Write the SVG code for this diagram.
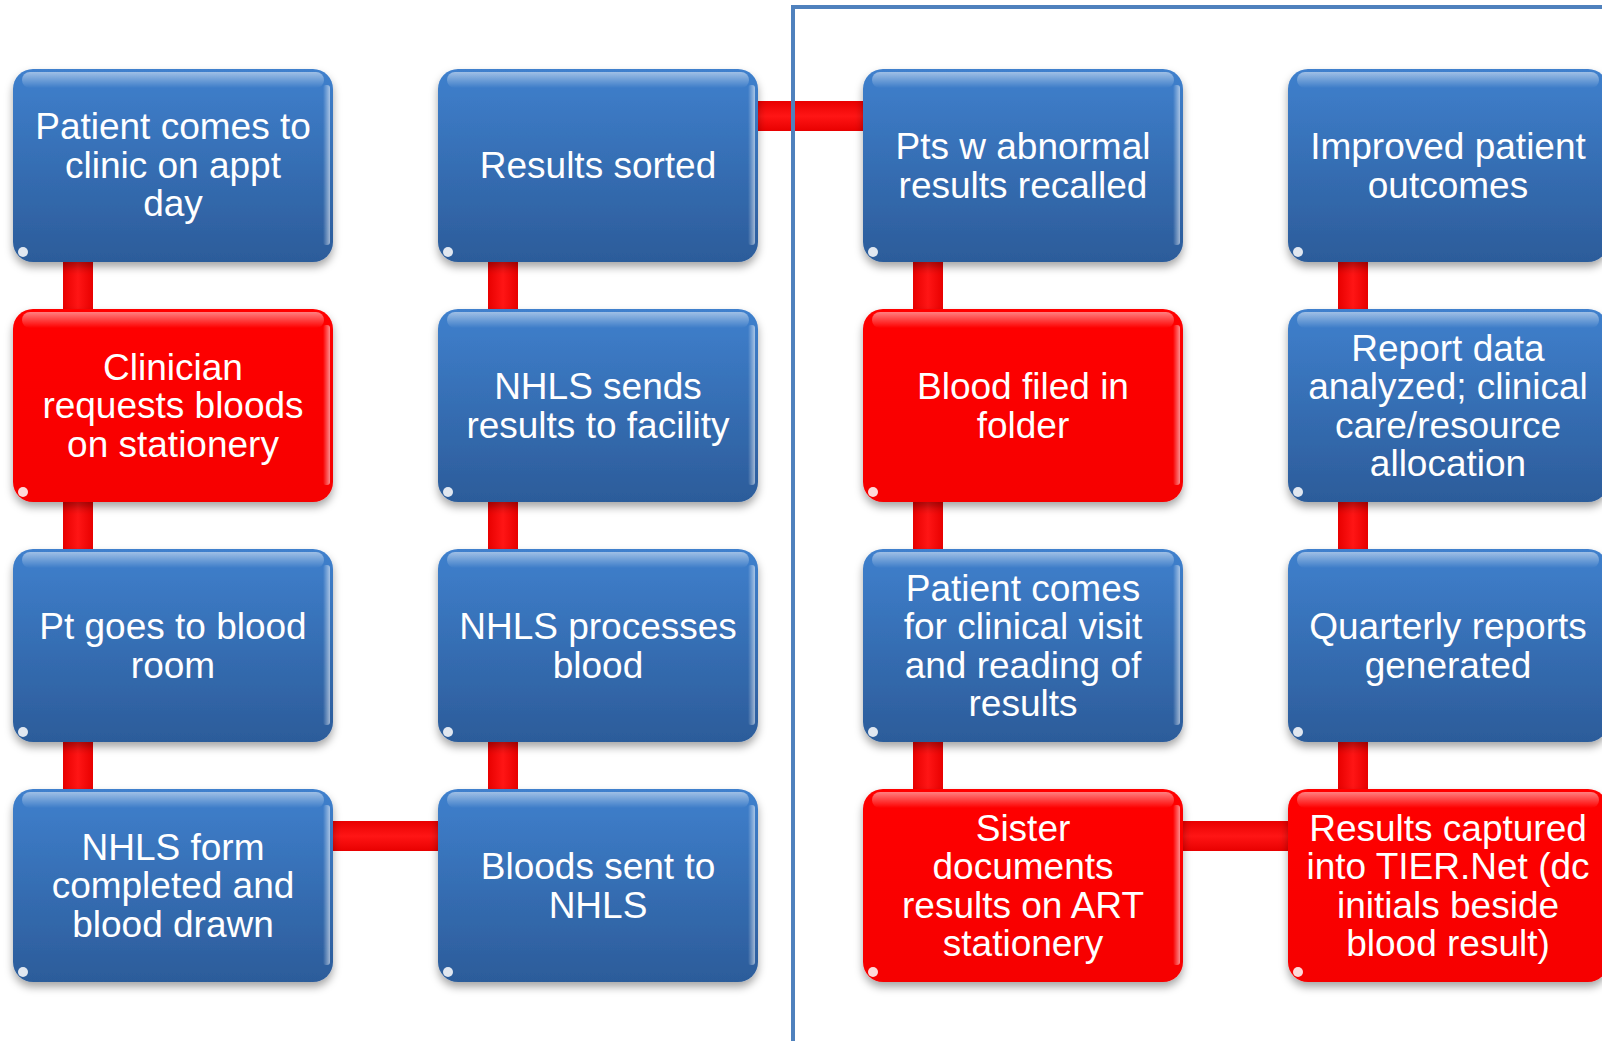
<svg xmlns="http://www.w3.org/2000/svg" width="1602" height="1041" viewBox="0 0 1602 1041">
<defs>
<linearGradient id="gBlue" x1="0" y1="0" x2="0" y2="1">
<stop offset="0" stop-color="#3f80cd"/>
<stop offset="1" stop-color="#2c5c9a"/>
</linearGradient>
<linearGradient id="gRed" x1="0" y1="0" x2="0" y2="1">
<stop offset="0" stop-color="#ff0000"/>
<stop offset="1" stop-color="#f60000"/>
</linearGradient>
<linearGradient id="gGloss" x1="0" y1="0" x2="0" y2="1">
<stop offset="0" stop-color="#ffffff" stop-opacity="0.5"/>
<stop offset="1" stop-color="#ffffff" stop-opacity="0"/>
</linearGradient>
<linearGradient id="gEdge" x1="0" y1="0" x2="1" y2="0">
<stop offset="0" stop-color="#ffffff" stop-opacity="0"/>
<stop offset="1" stop-color="#ffffff" stop-opacity="0.55"/>
</linearGradient>
<linearGradient id="gBarV" x1="0" y1="0" x2="1" y2="0">
<stop offset="0" stop-color="#e80000"/>
<stop offset="0.5" stop-color="#ff1515"/>
<stop offset="1" stop-color="#e80000"/>
</linearGradient>
<linearGradient id="gBarH" x1="0" y1="0" x2="0" y2="1">
<stop offset="0" stop-color="#e80000"/>
<stop offset="0.5" stop-color="#ff1515"/>
<stop offset="1" stop-color="#e80000"/>
</linearGradient>
<filter id="shadow" x="-10%" y="-10%" width="120%" height="130%">
<feDropShadow dx="0" dy="5" stdDeviation="4" flood-color="#000" flood-opacity="0.35"/>
</filter>
</defs>
<style>
.blue{fill:url(#gBlue);}
.red{fill:url(#gRed);}
.gloss{fill:url(#gGloss);}
.edge{fill:url(#gEdge);}
.spot{fill:#ffffff;opacity:0.85;}
.lbl{font-family:"Liberation Sans",Arial,sans-serif;font-size:37px;fill:#ffffff;text-anchor:middle;}
.frame{fill:none;stroke:#4f81bd;stroke-width:4;}
</style>
<rect width="1602" height="1041" fill="#ffffff"/>
<g id="connectors">
<rect x="63" y="255" width="30" height="60" fill="url(#gBarV)"/>
<rect x="63" y="495" width="30" height="60" fill="url(#gBarV)"/>
<rect x="63" y="735" width="30" height="60" fill="url(#gBarV)"/>
<rect x="488" y="255" width="30" height="60" fill="url(#gBarV)"/>
<rect x="488" y="495" width="30" height="60" fill="url(#gBarV)"/>
<rect x="488" y="735" width="30" height="60" fill="url(#gBarV)"/>
<rect x="913" y="255" width="30" height="60" fill="url(#gBarV)"/>
<rect x="913" y="495" width="30" height="60" fill="url(#gBarV)"/>
<rect x="913" y="735" width="30" height="60" fill="url(#gBarV)"/>
<rect x="1338" y="255" width="30" height="60" fill="url(#gBarV)"/>
<rect x="1338" y="495" width="30" height="60" fill="url(#gBarV)"/>
<rect x="1338" y="735" width="30" height="60" fill="url(#gBarV)"/>
<rect x="328" y="821" width="115" height="30" fill="url(#gBarH)"/>
<rect x="753" y="101" width="115" height="30" fill="url(#gBarH)"/>
<rect x="1178" y="821" width="115" height="30" fill="url(#gBarH)"/>
</g>
<path class="frame" d="M793,1041 V7 H1602"/>
<g id="n1"><rect class="blue" x="13" y="69" width="320" height="193" rx="20" filter="url(#shadow)"/><rect class="gloss" x="22" y="72" width="302" height="16" rx="8"/><rect class="edge" x="323" y="85" width="7" height="160" rx="3"/><circle class="spot" cx="23" cy="252" r="5"/>
<text class="lbl"><tspan x="173" y="139">Patient comes to</tspan><tspan x="173" y="177.5">clinic on appt</tspan><tspan x="173" y="216">day</tspan></text></g>
<g id="n2"><rect class="red" x="13" y="309" width="320" height="193" rx="20" filter="url(#shadow)"/><rect class="gloss" x="22" y="312" width="302" height="16" rx="8"/><rect class="edge" x="323" y="325" width="7" height="160" rx="3"/><circle class="spot" cx="23" cy="492" r="5"/>
<text class="lbl"><tspan x="173" y="379.5">Clinician</tspan><tspan x="173" y="418">requests bloods</tspan><tspan x="173" y="456.5">on stationery</tspan></text></g>
<g id="n3"><rect class="blue" x="13" y="549" width="320" height="193" rx="20" filter="url(#shadow)"/><rect class="gloss" x="22" y="552" width="302" height="16" rx="8"/><rect class="edge" x="323" y="565" width="7" height="160" rx="3"/><circle class="spot" cx="23" cy="732" r="5"/>
<text class="lbl"><tspan x="173" y="639">Pt goes to blood</tspan><tspan x="173" y="677.5">room</tspan></text></g>
<g id="n4"><rect class="blue" x="13" y="789" width="320" height="193" rx="20" filter="url(#shadow)"/><rect class="gloss" x="22" y="792" width="302" height="16" rx="8"/><rect class="edge" x="323" y="805" width="7" height="160" rx="3"/><circle class="spot" cx="23" cy="972" r="5"/>
<text class="lbl"><tspan x="173" y="859.5">NHLS form</tspan><tspan x="173" y="898">completed and</tspan><tspan x="173" y="936.5">blood drawn</tspan></text></g>
<g id="n5"><rect class="blue" x="438" y="69" width="320" height="193" rx="20" filter="url(#shadow)"/><rect class="gloss" x="447" y="72" width="302" height="16" rx="8"/><rect class="edge" x="748" y="85" width="7" height="160" rx="3"/><circle class="spot" cx="448" cy="252" r="5"/>
<text class="lbl"><tspan x="598" y="178">Results sorted</tspan></text></g>
<g id="n6"><rect class="blue" x="438" y="309" width="320" height="193" rx="20" filter="url(#shadow)"/><rect class="gloss" x="447" y="312" width="302" height="16" rx="8"/><rect class="edge" x="748" y="325" width="7" height="160" rx="3"/><circle class="spot" cx="448" cy="492" r="5"/>
<text class="lbl"><tspan x="598" y="399">NHLS sends</tspan><tspan x="598" y="437.5">results to facility</tspan></text></g>
<g id="n7"><rect class="blue" x="438" y="549" width="320" height="193" rx="20" filter="url(#shadow)"/><rect class="gloss" x="447" y="552" width="302" height="16" rx="8"/><rect class="edge" x="748" y="565" width="7" height="160" rx="3"/><circle class="spot" cx="448" cy="732" r="5"/>
<text class="lbl"><tspan x="598" y="639">NHLS processes</tspan><tspan x="598" y="677.5">blood</tspan></text></g>
<g id="n8"><rect class="blue" x="438" y="789" width="320" height="193" rx="20" filter="url(#shadow)"/><rect class="gloss" x="447" y="792" width="302" height="16" rx="8"/><rect class="edge" x="748" y="805" width="7" height="160" rx="3"/><circle class="spot" cx="448" cy="972" r="5"/>
<text class="lbl"><tspan x="598" y="879">Bloods sent to</tspan><tspan x="598" y="917.5">NHLS</tspan></text></g>
<g id="n9"><rect class="blue" x="863" y="69" width="320" height="193" rx="20" filter="url(#shadow)"/><rect class="gloss" x="872" y="72" width="302" height="16" rx="8"/><rect class="edge" x="1173" y="85" width="7" height="160" rx="3"/><circle class="spot" cx="873" cy="252" r="5"/>
<text class="lbl"><tspan x="1023" y="159">Pts w abnormal</tspan><tspan x="1023" y="197.5">results recalled</tspan></text></g>
<g id="n10"><rect class="red" x="863" y="309" width="320" height="193" rx="20" filter="url(#shadow)"/><rect class="gloss" x="872" y="312" width="302" height="16" rx="8"/><rect class="edge" x="1173" y="325" width="7" height="160" rx="3"/><circle class="spot" cx="873" cy="492" r="5"/>
<text class="lbl"><tspan x="1023" y="399">Blood filed in</tspan><tspan x="1023" y="437.5">folder</tspan></text></g>
<g id="n11"><rect class="blue" x="863" y="549" width="320" height="193" rx="20" filter="url(#shadow)"/><rect class="gloss" x="872" y="552" width="302" height="16" rx="8"/><rect class="edge" x="1173" y="565" width="7" height="160" rx="3"/><circle class="spot" cx="873" cy="732" r="5"/>
<text class="lbl"><tspan x="1023" y="600.5">Patient comes</tspan><tspan x="1023" y="639">for clinical visit</tspan><tspan x="1023" y="677.5">and reading of</tspan><tspan x="1023" y="716">results</tspan></text></g>
<g id="n12"><rect class="red" x="863" y="789" width="320" height="193" rx="20" filter="url(#shadow)"/><rect class="gloss" x="872" y="792" width="302" height="16" rx="8"/><rect class="edge" x="1173" y="805" width="7" height="160" rx="3"/><circle class="spot" cx="873" cy="972" r="5"/>
<text class="lbl"><tspan x="1023" y="840.5">Sister</tspan><tspan x="1023" y="879">documents</tspan><tspan x="1023" y="917.5">results on ART</tspan><tspan x="1023" y="956">stationery</tspan></text></g>
<g id="n13"><rect class="blue" x="1288" y="69" width="320" height="193" rx="20" filter="url(#shadow)"/><rect class="gloss" x="1297" y="72" width="302" height="16" rx="8"/><circle class="spot" cx="1298" cy="252" r="5"/>
<text class="lbl"><tspan x="1448" y="159">Improved patient</tspan><tspan x="1448" y="197.5">outcomes</tspan></text></g>
<g id="n14"><rect class="blue" x="1288" y="309" width="320" height="193" rx="20" filter="url(#shadow)"/><rect class="gloss" x="1297" y="312" width="302" height="16" rx="8"/><circle class="spot" cx="1298" cy="492" r="5"/>
<text class="lbl"><tspan x="1448" y="360.5">Report data</tspan><tspan x="1448" y="399">analyzed; clinical</tspan><tspan x="1448" y="437.5">care/resource</tspan><tspan x="1448" y="476">allocation</tspan></text></g>
<g id="n15"><rect class="blue" x="1288" y="549" width="320" height="193" rx="20" filter="url(#shadow)"/><rect class="gloss" x="1297" y="552" width="302" height="16" rx="8"/><circle class="spot" cx="1298" cy="732" r="5"/>
<text class="lbl"><tspan x="1448" y="639">Quarterly reports</tspan><tspan x="1448" y="677.5">generated</tspan></text></g>
<g id="n16"><rect class="red" x="1288" y="789" width="320" height="193" rx="20" filter="url(#shadow)"/><rect class="gloss" x="1297" y="792" width="302" height="16" rx="8"/><circle class="spot" cx="1298" cy="972" r="5"/>
<text class="lbl"><tspan x="1448" y="840.5">Results captured</tspan><tspan x="1448" y="879">into TIER.Net (dc</tspan><tspan x="1448" y="917.5">initials beside</tspan><tspan x="1448" y="956">blood result)</tspan></text></g>
</svg>
